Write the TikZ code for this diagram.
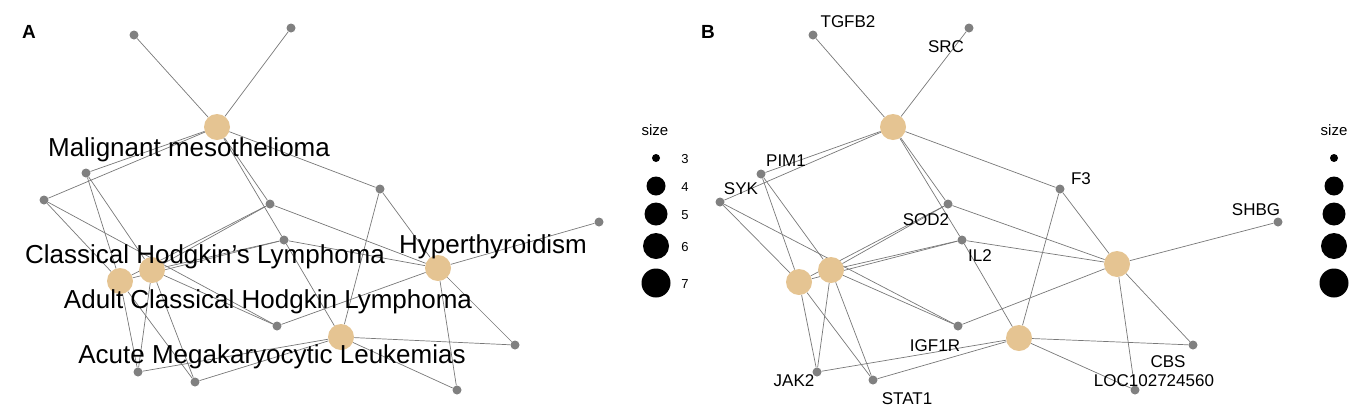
\documentclass[tikz,border=0pt]{standalone}
\usepackage{fontspec}
\setmainfont{Liberation Sans}
\usetikzlibrary{backgrounds}
\definecolor{hub}{RGB}{229,196,146}
\definecolor{gn}{RGB}{128,128,128}
\definecolor{ed}{RGB}{120,120,120}
\begin{document}
\begin{tikzpicture}[x=1pt,y=-1pt,
  g/.style={circle,fill=gn,inner sep=0pt,minimum size=9pt},
  h/.style={circle,fill=hub,inner sep=0pt,minimum size=26pt},
  e/.style={draw=ed,line width=0.7pt},
  la/.style={font=\fontsize{26}{26}\selectfont,inner sep=0pt},
  lb/.style={font=\fontsize{17}{17}\selectfont,inner sep=0pt},
  lg/.style={font=\fontsize{15}{15}\selectfont,inner sep=0pt},
  ld/.style={circle,fill=black,inner sep=0pt}]
\useasboundingbox (0,0) rectangle (1366,416);
% panel A
\node[font=\bfseries\fontsize{19}{19}\selectfont] (tA) at (29,32) {A};
\node[g] (a-t1) at (134,35) {}; \node[g] (a-t2) at (291,28) {};
\node[h] (a-h1) at (217,127) {};
\node[g] (a-pim) at (86,173) {}; \node[g] (a-syk) at (44,200) {};
\node[g] (a-sod) at (270,204) {}; \node[g] (a-f3) at (380,189) {};
\node[g] (a-il2) at (284,240) {}; \node[g] (a-shbg) at (599,222) {};
\node[h] (a-l1) at (120,281) {}; \node[h] (a-l2) at (152,270) {};
\node[h] (a-hr) at (438,268) {};
\node[g] (a-igf) at (277,326) {}; \node[h] (a-hb) at (341,337) {};
\node[g] (a-cbs) at (515,345) {}; \node[g] (a-jak) at (138,372) {};
\node[g] (a-stat) at (195,382) {}; \node[g] (a-loc) at (457,390) {};
% panel B
\node[font=\bfseries\fontsize{19}{19}\selectfont] (tB) at (708,32) {B};
\node[g] (b-t1) at (813,35) {}; \node[g] (b-t2) at (969,28) {};
\node[h] (b-h1) at (893,127) {};
\node[g] (b-pim) at (761,174) {}; \node[g] (b-syk) at (720,202) {};
\node[g] (b-sod) at (948,204) {}; \node[g] (b-f3) at (1060,189) {};
\node[g] (b-il2) at (962,240) {}; \node[g] (b-shbg) at (1278,222) {};
\node[h] (b-l1) at (799,282) {}; \node[h] (b-l2) at (831,270) {};
\node[h] (b-hr) at (1117,264) {};
\node[g] (b-igf) at (958,326) {}; \node[h] (b-hb) at (1019,338) {};
\node[g] (b-cbs) at (1193,345) {}; \node[g] (b-jak) at (817,372) {};
\node[g] (b-stat) at (873,380) {}; \node[g] (b-loc) at (1135,390) {};
\begin{pgfonlayer}{background}
\foreach \p in {a,b}{
 \foreach \u/\v in {h1/t1,h1/t2,h1/pim,h1/syk,h1/f3,h1/sod,h1/il2,sod/hr,sod/l2,sod/l1,
   il2/l2,il2/l1,il2/hr,il2/hb,f3/hr,f3/hb,hr/shbg,hr/igf,hr/cbs,hr/loc,
   pim/l1,pim/l2,syk/l1,syk/igf,l2/igf,l1/jak,l1/stat,l2/jak,l2/stat,
   hb/jak,hb/stat,hb/cbs,hb/loc}
   \draw[e] (\p-\u) -- (\p-\v);
}
\end{pgfonlayer}
% A labels
\node[la] (lmm) at (189,150) {Malignant mesothelioma};
\node[la] (lchl) at (205,257) {Classical Hodgkin's Lymphoma};
\node[la] (lhy) at (493,247) {Hyperthyroidism};
\node[la] (lad) at (268,302) {Adult Classical Hodgkin Lymphoma};
\node[la] (lac) at (272,357) {Acute Megakaryocytic Leukemias};
% B labels
\node[lb] (n1) at (848,22) {TGFB2};
\node[lb] (n2) at (946,47) {SRC};
\node[lb] (n3) at (786,161) {PIM1};
\node[lb] (n4) at (741,189) {SYK};
\node[lb] (n5) at (926,220) {SOD2};
\node[lb] (n6) at (1081,179) {F3};
\node[lb] (n7) at (980,256) {IL2};
\node[lb] (n8) at (1256,210) {SHBG};
\node[lb] (n9) at (935,346) {IGF1R};
\node[lb] (n10) at (1168,362) {CBS};
\node[lb] (n11) at (794,381) {JAK2};
\node[lb] (n12) at (907,399) {STAT1};
\node[lb] (n13) at (1154,381) {LOC102724560};
% legends
\node[lg] (s1) at (655,130) {size};
\node[ld,minimum size=8pt] (d1) at (656,158) {}; \node[lb,font=\fontsize{13}{13}\selectfont] at (685,159) {3};
\node[ld,minimum size=19pt] (d2) at (656,186) {}; \node[lb,font=\fontsize{13}{13}\selectfont] at (685,187) {4};
\node[ld,minimum size=23pt] (d3) at (656,214) {}; \node[lb,font=\fontsize{13}{13}\selectfont] at (685,215) {5};
\node[ld,minimum size=26pt] (d4) at (656,246) {}; \node[lb,font=\fontsize{13}{13}\selectfont] at (685,247) {6};
\node[ld,minimum size=29pt] (d5) at (656,283) {}; \node[lb,font=\fontsize{13}{13}\selectfont] at (685,284) {7};
\node[lg] (s2) at (1334,130) {size};
\node[ld,minimum size=8pt] (e1) at (1334,158) {};
\node[ld,minimum size=19pt] (e2) at (1334,186) {};
\node[ld,minimum size=23pt] (e3) at (1334,214) {};
\node[ld,minimum size=26pt] (e4) at (1334,246) {};
\node[ld,minimum size=29pt] (e5) at (1334,283) {};
\end{tikzpicture}
\end{document}
